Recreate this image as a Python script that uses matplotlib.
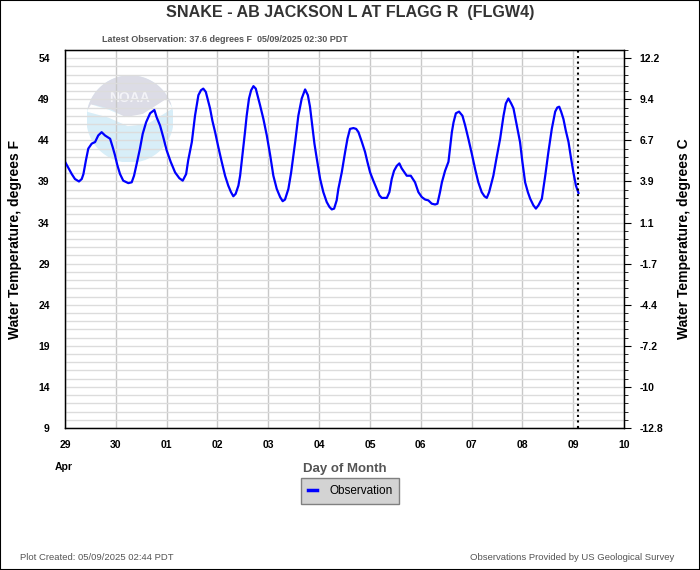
import matplotlib
matplotlib.use('Agg')
import matplotlib.pyplot as plt
import matplotlib.patches as mpatches
from matplotlib.ticker import MultipleLocator, FixedLocator, FuncFormatter
import pandas as pd
import numpy as np

plt.rcParams['font.family'] = ['Liberation Sans', 'DejaVu Sans']

# hours after 2025-04-29 00:00 PDT, water temperature in degrees F
hours = [0, 3.2, 4.7, 6.6, 7.9, 8.7, 9.9, 11.0, 12.6, 14.2, 15.7, 17.3, 18.9, 21.3, 22.5, 23.6,
         24.7, 26.0, 27.5, 29.9, 31.5, 32.6, 33.9, 35.4, 36.7, 38.3, 40.2, 42.2, 43.3, 44.9,
         46.4, 48.0, 49.9, 52.0, 54.0, 55.6, 57.2, 58.2, 59.9, 61.4, 63.0, 64.2, 65.3, 66.5,
         68.5, 69.6, 70.9, 72.4, 74.0, 75.6, 77.1, 78.4, 79.5, 80.6, 81.9, 82.7, 83.8, 85.0,
         85.8, 86.9, 87.9, 89.0, 90.1, 92.1, 93.7, 95.3, 96.9, 98.4, 100.0, 101.6, 102.8,
         103.9, 105.5, 106.8, 107.9, 108.7, 110.2, 111.8, 113.4, 114.7, 115.7, 116.8, 117.8,
         118.9, 120.5, 122.0, 123.6, 124.9, 126.0, 127.1, 128.3, 129.1, 130.7, 132.3, 133.4,
         134.6, 136.2, 137.5, 138.6, 140.2, 141.7, 142.8, 144.1, 145.6, 147.2, 148.5, 149.6,
         152.0, 153.2, 154.3, 155.4, 156.7, 157.9, 159.0, 159.8, 161.4, 163.3, 164.3, 165.3,
         166.9, 168.5, 170.1, 171.6, 173.2, 174.8, 175.9, 177.1, 178.0, 179.5, 181.1, 181.9,
         182.7, 183.5, 184.6, 186.1, 187.7, 189.0, 190.5, 192.1, 193.7, 195.2, 196.8, 198.1,
         199.2, 200.3, 202.3, 203.9, 205.5, 207.1, 208.2, 209.4, 210.7, 211.8, 213.4, 214.9,
         216.0, 217.3, 218.6, 219.7, 221.2, 222.4, 223.6, 225.2, 226.8, 228.3, 229.9, 231.5,
         232.5, 233.4, 234.3, 235.4, 236.5, 237.8, 239.0, 240.1, 241.3, 242.5]
temp_f = [41.4, 39.9, 39.3, 39.0, 39.3, 39.9, 41.6, 43.0, 43.6, 43.8, 44.6, 45.0, 44.6, 44.2, 43.2, 42.2,
          41.0, 39.9, 39.1, 38.8, 38.9, 39.7, 41.2, 43.0, 44.8, 46.2, 47.3, 47.7, 46.8, 45.8,
          44.4, 42.8, 41.4, 40.1, 39.4, 39.1, 39.9, 41.6, 43.8, 47.0, 49.5, 50.1, 50.3, 49.9,
          47.9, 46.4, 45.0, 43.2, 41.4, 39.7, 38.5, 37.7, 37.2, 37.5, 38.5, 39.7, 42.2, 45.0,
          47.0, 49.1, 50.1, 50.6, 50.3, 48.3, 46.6, 44.6, 42.2, 39.7, 38.1, 37.1, 36.6,
          36.8, 38.1, 40.1, 42.2, 43.8, 47.0, 49.1, 50.2, 49.5, 48.1, 45.8, 43.6,
          41.8, 39.3, 37.7, 36.5, 35.9, 35.6, 35.7, 36.7, 38.1, 40.1, 42.6, 44.2,
          45.4, 45.5, 45.4, 45.0, 43.8, 42.6, 41.4, 40.1, 39.1, 38.1, 37.3, 37.0,
          37.0, 37.7, 39.3, 40.3, 40.9, 41.2, 40.6, 40.3, 39.7, 39.7, 39.3, 38.9,
          37.7, 37.1, 36.8, 36.7, 36.3, 36.2, 36.3, 37.7, 38.9, 40.3, 41.4, 43.2,
          45.0, 46.2, 47.3, 47.5, 47.0, 45.8, 44.2, 42.4, 40.5, 38.9, 37.7, 37.2,
          37.0, 37.7, 39.7, 42.0, 44.2, 47.0, 48.5, 49.1, 48.5, 47.9, 45.8, 43.8,
          41.4, 38.9, 37.7, 36.9, 36.1, 35.7, 36.1, 36.9, 39.7, 42.6, 45.4, 47.5,
          48.0, 48.1, 47.5, 46.6, 45.2, 43.8, 41.8, 40.1, 38.5, 37.6]

start = pd.Timestamp('2025-04-29 00:00')
times = start + pd.to_timedelta(hours, unit='h')
latest = pd.Timestamp('2025-05-09 02:30')

day_labels = ['29', '30', '01', '02', '03', '04', '05', '06', '07', '08', '09', '10']
f_ticks = [9, 14, 19, 24, 29, 34, 39, 44, 49, 54]

fig = plt.figure(figsize=(7, 5.7), dpi=100)
fig.patch.set_facecolor('white')
fig.add_artist(mpatches.Rectangle((0, 0), 1, 1, transform=fig.transFigure,
                                  fill=False, edgecolor='black', lw=1.5))

# faded NOAA logo behind the plot
logo = fig.add_axes([87/700, 1-162/570, 86/700, 86/570])
logo.set_xlim(-1, 1); logo.set_ylim(-1, 1); logo.axis('off')
logo.add_patch(mpatches.Circle((0, 0), 1, color='#d8eef8'))
th = np.linspace(np.radians(20), np.radians(165), 40)
top = list(zip(np.cos(th), np.sin(th)))
top += [(-0.85, 0.35), (-0.45, 0.25), (-0.1, 0.05), (0.3, 0.12), (0.7, 0.3)]
logo.add_patch(mpatches.Polygon(top, closed=True, color='#dcdce6'))
logo.add_patch(mpatches.Polygon([(-0.98, 0.18), (-0.5, 0.05), (-0.05, -0.15), (0.4, -0.1), (0.97, 0.25),
                                 (0.85, 0.45), (0.3, 0.1), (-0.1, 0.03), (-0.5, 0.2), (-0.9, 0.32)],
                                closed=True, color='white'))
logo.text(0, 0.5, 'NOAA', color='#f4f4f8', fontsize=10, fontweight='bold', ha='center', va='center')

ax = fig.add_axes([65/700, 1-428/570, 559/700, 378/570])
ax.set_facecolor('none')
ax.plot(times, temp_f, color='#0000ff', lw=1.6, zorder=3)
ax.axvline(latest, color='black', ls=':', lw=1.5, zorder=4)

ax.set_xlim(pd.Timestamp('2025-04-29'), pd.Timestamp('2025-05-10'))
ax.set_ylim(9, 55)
ax.set_xticks(pd.date_range('2025-04-29', '2025-05-10', freq='D'))
ax.set_xticklabels(day_labels, fontsize=7.5, fontweight='bold')
ax.set_yticks(f_ticks)
ax.set_yticklabels([str(v) for v in f_ticks], fontsize=7.5, fontweight='bold')
ax.yaxis.set_minor_locator(MultipleLocator(1))
ax.tick_params(axis='both', which='both', length=0)
ax.tick_params(axis='x', pad=9)
ax.tick_params(axis='y', pad=11)
ax.grid(True, axis='y', which='both', color='#dcdcdc', lw=1)
ax.grid(True, axis='x', which='major', color='#c8c8c8', lw=1)
ax.set_axisbelow(True)
for s in ax.spines.values():
    s.set_color('black')
    s.set_linewidth(1)

ax.set_ylabel('Water Temperature, degrees F', fontsize=10, fontweight='bold', labelpad=12)
ax.set_xlabel('Day of Month', fontsize=9.5, fontweight='bold', color='#555555', labelpad=9)

# right axis in Celsius
ax2 = ax.twinx()
ax2.set_ylim(ax.get_ylim())
ax2.yaxis.set_major_locator(FixedLocator(f_ticks))
ax2.yaxis.set_minor_locator(MultipleLocator(1))

def to_c(v, pos):
    c = (v - 32) * 5 / 9
    s = '%.1f' % c
    return s[:-2] if s.endswith('.0') else s

ax2.yaxis.set_major_formatter(FuncFormatter(to_c))
ax2.tick_params(axis='y', which='major', length=5, labelsize=7.5, pad=6)
ax2.tick_params(axis='y', which='minor', length=3)
for lab in ax2.get_yticklabels():
    lab.set_fontweight('bold')
ax2.set_ylabel('Water Temperature, degrees C', fontsize=10, fontweight='bold', labelpad=10)

fig.text(64/700, 1-467/570, 'Apr', fontsize=7.5, fontweight='bold', ha='center', va='center')

fig.text(0.5, 1-12/570, 'SNAKE - AB JACKSON L AT FLAGG R  (FLGW4)', fontsize=11.6,
         fontweight='bold', color='#333333', ha='center', va='center')
fig.text(225/700, 1-40/570, 'Latest Observation: 37.6 degrees F  05/09/2025 02:30 PDT',
         fontsize=6.5, fontweight='bold', color='#555555', ha='center', va='center')

leg = ax.legend(['Observation'], loc='center', bbox_to_anchor=(350/700, 1-491/570),
                bbox_transform=fig.transFigure, fontsize=8.5, frameon=True, fancybox=False,
                handlelength=0.8, handletextpad=1.0, borderpad=0.35, borderaxespad=0)
leg.get_frame().set_facecolor('#d3d3d3')
leg.get_frame().set_edgecolor('#808080')
leg.get_frame().set_alpha(1)
leg.get_lines()[0].set_linewidth(2.5)
leg._legend_box.sep = 0
fr = leg.get_frame()
fr.set_boxstyle('square', pad=0.25)

fig.text(20/700, 1-557/570, 'Plot Created: 05/09/2025 02:44 PDT', fontsize=6.8,
         color='#555555', ha='left', va='center')
fig.text(674/700, 1-557/570, 'Observations Provided by US Geological Survey', fontsize=6.8,
         color='#555555', ha='right', va='center')

fig.savefig('out.png', dpi=100)
